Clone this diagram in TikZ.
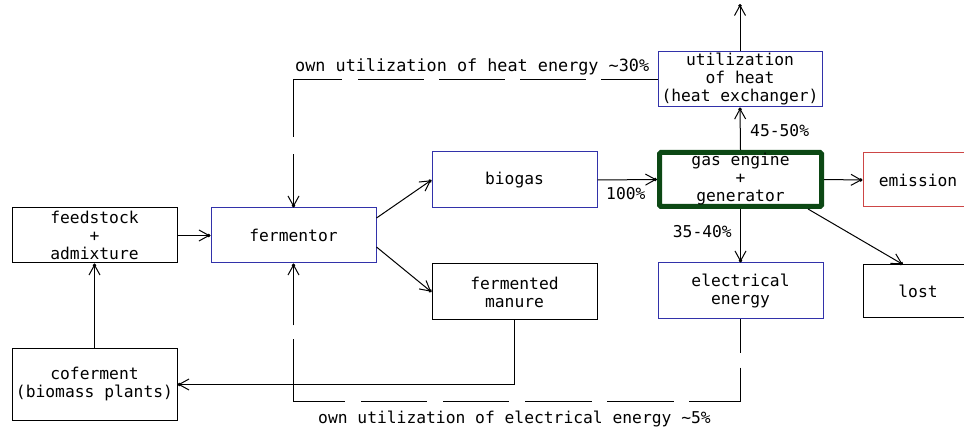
\documentclass[tikz,border=0pt]{standalone}
\usepackage{fontspec}
\setmainfont{DejaVu Sans Mono}
\usetikzlibrary{arrows.meta}
\definecolor{bxblue}{RGB}{50,50,170}
\definecolor{bxred}{RGB}{205,70,70}
\definecolor{bxgreen}{RGB}{12,72,20}
\tikzset{
  box/.style={draw=black, line width=1pt, minimum width=165pt, minimum height=55pt,
    inner sep=0pt, align=center, font=\fontsize{16.3}{18}\selectfont},
  bluebox/.style={box, draw=bxblue},
  redbox/.style={box, draw=bxred},
  engbox/.style={box, draw=bxgreen, line width=5pt, rounded corners=1.5pt},
  conn/.style={line width=1pt, -{Straight Barb[length=10pt,width=11pt,sep=-3pt]Circle[length=3.5pt]}},
  topdash/.style={conn, dash pattern=on 57pt off 15pt on 66pt off 15pt on 66pt off 15pt on 66pt off 16pt on 106pt off 17pt on 80pt},
  botdash/.style={conn, dash pattern=on 34pt off 14pt on 86pt off 15pt on 67pt off 15pt on 67pt off 16pt on 66pt off 16pt on 66pt off 16pt on 113pt off 14pt on 80pt},
  lbl/.style={inner sep=0pt, font=\fontsize{16.3}{18}\selectfont}
}
\begin{document}
\begin{tikzpicture}[x=1pt,y=-1pt]
\useasboundingbox (0,0) rectangle (964,430);
\clip (0,0) rectangle (964,430);
\fill[white] (0,0) rectangle (964,430);

% boxes
\node[box] (feed) at (94.5,235.5) {feedstock\\+\\admixture};
\node[bluebox] (ferm) at (293.5,235.5) {fermentor};
\node[box, minimum height=71pt] (cof) at (94.5,384.5) {coferment\\(biomass plants)};
\node[bluebox, minimum height=56pt] (bio) at (514.5,180) {biogas};
\node[box, minimum height=56pt] (man) at (514.5,292) {fermented\\manure};
\node[engbox, minimum width=162pt, minimum height=54pt] (gas) at (740.5,179.5) {gas engine\\+\\generator};
\node[bluebox, minimum height=56pt] (elec) at (740.5,291) {electrical\\energy};
\node[bluebox, minimum width=164pt] (heat) at (740,79.5) {utilization\\of heat\\(heat exchanger)};
\node[redbox, minimum width=110pt, minimum height=54pt] (emis) at (918,180) {emission};
\node[box, minimum width=110pt, minimum height=53pt] (lost) at (918,291.5) {lost};
\coordinate (top) at (740,4);

% connectors
\draw[conn] (feed.east) -- (ferm.west);
\draw[conn] (cof.north) -- (feed.south);
\draw[conn] ([yshift=17.5pt]ferm.east) -- (bio.west);
\draw[conn] ([yshift=-11.5pt]ferm.east) -- (man.west);
\draw[conn] (bio.east) -- (gas.west);
\draw[conn] (gas.east) -- (emis.west);
\draw[conn] ([xshift=-16pt]gas.south east) -- ([xshift=-15pt]lost.north);
\draw[conn] (gas.south) -- (elec.north);
\draw[conn] (gas.north) -- (heat.south);
\draw[conn] (heat.north) -- (top);
\draw[conn] (man.south) |- (cof.east);
\draw[topdash] (heat.west) -| (ferm.north);
\draw[botdash] (elec.south) -- ++(0,82) -| (ferm.south);

% labels
\node[lbl, anchor=base west, font=\fontsize{16.8}{18}\selectfont] (lheat) at (295,72) {own utilization of heat energy \textasciitilde30\%};
\node[lbl, anchor=base west] (lelec) at (318,423) {own utilization of electrical energy \textasciitilde5\%};
\node[lbl, anchor=base west] (l4550) at (750,137) {45-50\%};
\node[lbl, anchor=base west] (l100) at (606,200) {100\%};
\node[lbl, anchor=base east] (l3540) at (732,238) {35-40\%};
\end{tikzpicture}
\end{document}
